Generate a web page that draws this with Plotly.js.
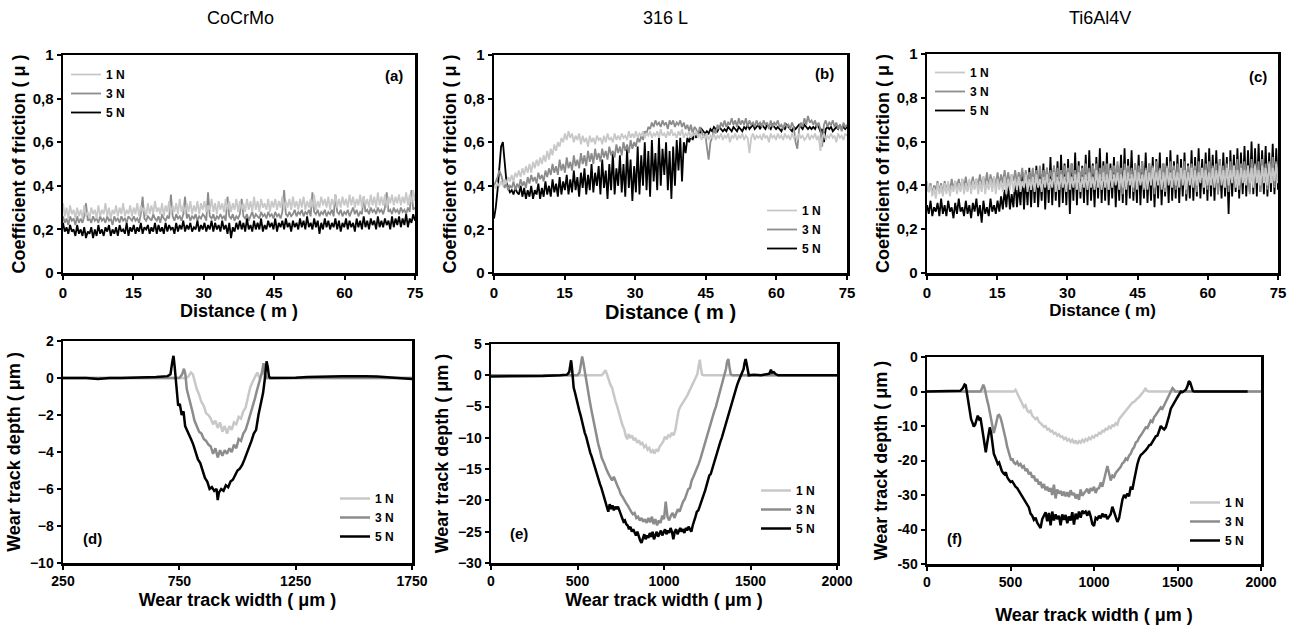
<!DOCTYPE html>
<html><head><meta charset="utf-8">
<script src="https://cdn.plot.ly/plotly-3.0.1.min.js"></script>
<style>html,body{margin:0;padding:0;background:#fff}#chart{width:1302px;height:626px}</style>
</head><body><div id="chart"></div>
<script>
const loads = ['1 N', '3 N', '5 N'];
const lineColors = ['#c8c8c8', '#8c8c8c', '#000000'];
const materials = ['CoCrMo', '316 L', 'Ti6Al4V'];
const panelLabels = ['(a)', '(b)', '(c)', '(d)', '(e)', '(f)'];
const distanceMax = 75;

// ---- Coefficient of friction vs distance (200 samples over 0-75 m) ----
const cocrmo1N = [
0.32,0.26,0.30,0.25,0.31,0.27,0.29,0.25,0.30,0.26,
0.29,0.25,0.31,0.26,0.28,0.25,0.30,0.27,0.29,0.25,
0.31,0.26,0.29,0.27,0.32,0.26,0.30,0.25,0.29,0.27,
0.31,0.26,0.30,0.27,0.32,0.26,0.29,0.27,0.31,0.26,
0.30,0.27,0.32,0.26,0.31,0.28,0.30,0.26,0.32,0.27,
0.31,0.27,0.33,0.28,0.30,0.27,0.32,0.26,0.31,0.28,
0.33,0.27,0.31,0.28,0.32,0.27,0.34,0.28,0.31,0.27,
0.32,0.28,0.33,0.27,0.31,0.28,0.33,0.27,0.32,0.29,
0.33,0.28,0.31,0.29,0.34,0.28,0.32,0.27,0.33,0.29,
0.32,0.28,0.34,0.29,0.33,0.28,0.32,0.29,0.34,0.28,
0.33,0.29,0.32,0.28,0.34,0.29,0.33,0.28,0.35,0.29,
0.33,0.28,0.34,0.30,0.32,0.29,0.34,0.28,0.33,0.30,
0.34,0.29,0.33,0.30,0.35,0.29,0.33,0.30,0.34,0.29,
0.35,0.30,0.33,0.29,0.34,0.30,0.35,0.29,0.33,0.30,
0.34,0.30,0.36,0.29,0.33,0.30,0.35,0.31,0.34,0.30,
0.35,0.29,0.34,0.31,0.36,0.30,0.34,0.30,0.35,0.31,
0.34,0.30,0.36,0.31,0.35,0.30,0.34,0.31,0.36,0.30,
0.35,0.31,0.34,0.30,0.36,0.31,0.35,0.30,0.37,0.31,
0.35,0.31,0.36,0.30,0.35,0.32,0.36,0.31,0.35,0.32,
0.36,0.31,0.35,0.32,0.37,0.31,0.36,0.32,0.38,0.33];
const cocrmo3N = [
0.26,0.23,0.25,0.22,0.26,0.24,0.25,0.22,0.26,0.23,
0.25,0.23,0.26,0.32,0.24,0.25,0.23,0.26,0.24,0.25,
0.23,0.26,0.24,0.25,0.23,0.26,0.24,0.25,0.22,0.26,
0.24,0.25,0.23,0.26,0.24,0.25,0.23,0.26,0.25,0.24,
0.26,0.24,0.25,0.23,0.27,0.35,0.25,0.24,0.26,0.25,
0.24,0.27,0.25,0.24,0.26,0.23,0.27,0.25,0.24,0.26,
0.25,0.36,0.26,0.24,0.27,0.25,0.26,0.24,0.27,0.35,
0.25,0.27,0.24,0.26,0.25,0.27,0.24,0.26,0.25,0.27,
0.26,0.24,0.37,0.26,0.25,0.27,0.24,0.26,0.25,0.27,
0.25,0.26,0.24,0.35,0.26,0.25,0.27,0.24,0.26,0.25,
0.27,0.34,0.26,0.25,0.27,0.24,0.26,0.28,0.25,0.27,
0.26,0.25,0.28,0.26,0.27,0.25,0.28,0.26,0.27,0.25,
0.28,0.26,0.27,0.25,0.28,0.38,0.27,0.26,0.28,0.26,
0.27,0.29,0.26,0.28,0.27,0.29,0.26,0.28,0.27,0.29,
0.26,0.37,0.28,0.27,0.29,0.26,0.28,0.27,0.29,0.26,
0.28,0.27,0.29,0.26,0.36,0.28,0.27,0.29,0.26,0.28,
0.27,0.29,0.26,0.28,0.30,0.27,0.29,0.26,0.28,0.27,
0.35,0.28,0.29,0.27,0.30,0.28,0.29,0.27,0.30,0.28,
0.29,0.27,0.30,0.37,0.28,0.29,0.27,0.30,0.28,0.29,
0.27,0.30,0.28,0.29,0.27,0.30,0.28,0.38,0.29,0.30];
const cocrmo5N = [
0.23,0.19,0.21,0.18,0.22,0.19,0.20,0.17,0.22,0.18,
0.20,0.17,0.21,0.16,0.19,0.18,0.21,0.16,0.20,0.17,
0.22,0.18,0.20,0.17,0.21,0.19,0.22,0.17,0.20,0.18,
0.21,0.17,0.22,0.19,0.20,0.18,0.23,0.17,0.21,0.19,
0.22,0.18,0.21,0.19,0.23,0.18,0.21,0.20,0.22,0.18,
0.21,0.19,0.23,0.18,0.22,0.19,0.21,0.18,0.23,0.19,
0.22,0.20,0.21,0.18,0.23,0.19,0.22,0.20,0.24,0.19,
0.22,0.20,0.23,0.19,0.21,0.20,0.24,0.19,0.22,0.20,
0.23,0.19,0.22,0.20,0.24,0.19,0.23,0.20,0.22,0.19,
0.24,0.20,0.22,0.18,0.23,0.16,0.21,0.19,0.23,0.20,
0.24,0.20,0.23,0.19,0.25,0.20,0.22,0.19,0.24,0.20,
0.23,0.20,0.25,0.19,0.22,0.20,0.24,0.21,0.23,0.20,
0.25,0.19,0.23,0.21,0.24,0.20,0.25,0.21,0.23,0.19,
0.24,0.21,0.23,0.20,0.25,0.21,0.24,0.20,0.26,0.21,
0.23,0.20,0.25,0.21,0.24,0.18,0.23,0.20,0.25,0.21,
0.24,0.20,0.23,0.21,0.25,0.20,0.24,0.19,0.23,0.21,
0.25,0.20,0.24,0.21,0.23,0.19,0.25,0.21,0.24,0.20,
0.26,0.21,0.24,0.20,0.25,0.22,0.24,0.20,0.26,0.21,
0.24,0.21,0.25,0.22,0.24,0.20,0.26,0.21,0.25,0.22,
0.26,0.21,0.25,0.22,0.27,0.21,0.25,0.23,0.27,0.24];

const ss316L1N = [
0.40,0.39,0.41,0.40,0.42,0.40,0.43,0.41,0.44,0.42,
0.45,0.42,0.46,0.44,0.47,0.44,0.48,0.45,0.49,0.46,
0.50,0.46,0.51,0.48,0.52,0.49,0.53,0.50,0.54,0.51,
0.56,0.52,0.57,0.54,0.59,0.56,0.60,0.58,0.62,0.60,
0.64,0.61,0.65,0.62,0.64,0.60,0.63,0.61,0.64,0.59,
0.63,0.60,0.62,0.58,0.63,0.60,0.62,0.59,0.63,0.61,
0.62,0.59,0.63,0.60,0.64,0.61,0.62,0.60,0.64,0.61,
0.63,0.61,0.64,0.62,0.63,0.61,0.65,0.62,0.64,0.62,
0.65,0.62,0.64,0.63,0.65,0.62,0.64,0.63,0.65,0.62,
0.64,0.63,0.65,0.62,0.66,0.63,0.64,0.62,0.65,0.63,
0.66,0.63,0.64,0.62,0.65,0.63,0.66,0.62,0.64,0.63,
0.65,0.62,0.64,0.63,0.65,0.62,0.64,0.61,0.63,0.62,
0.64,0.61,0.63,0.62,0.64,0.61,0.63,0.62,0.64,0.61,
0.63,0.62,0.64,0.60,0.63,0.62,0.64,0.61,0.63,0.62,
0.64,0.61,0.63,0.62,0.55,0.62,0.64,0.61,0.63,0.62,
0.63,0.61,0.64,0.62,0.63,0.60,0.64,0.62,0.63,0.61,
0.64,0.62,0.63,0.61,0.64,0.62,0.63,0.61,0.64,0.62,
0.63,0.61,0.64,0.62,0.63,0.61,0.62,0.64,0.61,0.63,
0.62,0.64,0.61,0.63,0.56,0.62,0.64,0.61,0.63,0.62,
0.64,0.62,0.63,0.60,0.64,0.62,0.63,0.61,0.64,0.63];
const ss316L3N = [
0.40,0.42,0.44,0.47,0.45,0.42,0.39,0.41,0.38,0.40,
0.39,0.42,0.38,0.41,0.39,0.43,0.40,0.42,0.39,0.44,
0.41,0.45,0.42,0.44,0.41,0.46,0.43,0.45,0.42,0.47,
0.44,0.48,0.45,0.50,0.46,0.49,0.45,0.52,0.47,0.50,
0.46,0.53,0.48,0.51,0.47,0.54,0.49,0.52,0.48,0.55,
0.50,0.54,0.49,0.56,0.51,0.55,0.50,0.57,0.52,0.55,
0.51,0.57,0.53,0.56,0.52,0.58,0.54,0.56,0.53,0.59,
0.55,0.58,0.54,0.60,0.56,0.59,0.55,0.61,0.57,0.60,
0.58,0.62,0.60,0.63,0.61,0.65,0.64,0.67,0.66,0.69,
0.67,0.70,0.68,0.69,0.67,0.70,0.68,0.69,0.66,0.70,
0.68,0.70,0.67,0.69,0.68,0.70,0.67,0.69,0.66,0.68,
0.65,0.68,0.64,0.67,0.66,0.63,0.67,0.65,0.62,0.64,
0.58,0.52,0.60,0.62,0.66,0.64,0.68,0.66,0.69,0.67,
0.70,0.67,0.69,0.68,0.71,0.68,0.70,0.67,0.71,0.68,
0.70,0.68,0.71,0.67,0.70,0.68,0.69,0.67,0.70,0.68,
0.69,0.67,0.70,0.68,0.69,0.66,0.70,0.67,0.69,0.68,
0.70,0.67,0.68,0.66,0.69,0.67,0.68,0.66,0.69,0.67,
0.60,0.57,0.66,0.69,0.67,0.71,0.68,0.72,0.69,0.70,
0.68,0.70,0.67,0.69,0.66,0.58,0.68,0.70,0.67,0.69,
0.68,0.70,0.67,0.69,0.66,0.68,0.65,0.69,0.67,0.68];
const ss316L5N = [
0.25,0.30,0.38,0.47,0.58,0.60,0.50,0.42,0.39,0.37,
0.38,0.36,0.39,0.37,0.36,0.40,0.35,0.39,0.34,0.38,
0.35,0.40,0.34,0.38,0.36,0.41,0.34,0.39,0.35,0.42,
0.36,0.40,0.35,0.43,0.37,0.41,0.35,0.44,0.36,0.42,
0.38,0.45,0.36,0.43,0.37,0.47,0.38,0.44,0.35,0.46,
0.39,0.48,0.36,0.45,0.38,0.50,0.37,0.46,0.40,0.49,
0.36,0.52,0.39,0.47,0.34,0.50,0.38,0.55,0.36,0.48,
0.40,0.54,0.37,0.50,0.35,0.57,0.39,0.52,0.33,0.49,
0.37,0.58,0.36,0.54,0.40,0.60,0.38,0.56,0.35,0.61,
0.42,0.55,0.38,0.62,0.40,0.57,0.45,0.60,0.38,0.56,
0.34,0.58,0.40,0.61,0.47,0.62,0.42,0.60,0.55,0.62,
0.60,0.63,0.61,0.64,0.62,0.65,0.64,0.66,0.65,0.64,
0.65,0.64,0.66,0.65,0.67,0.66,0.65,0.67,0.66,0.65,
0.66,0.65,0.67,0.66,0.65,0.67,0.66,0.65,0.67,0.66,
0.65,0.67,0.66,0.68,0.66,0.67,0.68,0.66,0.67,0.68,
0.66,0.68,0.67,0.66,0.68,0.67,0.66,0.68,0.67,0.66,
0.67,0.66,0.65,0.67,0.66,0.68,0.67,0.66,0.65,0.67,
0.66,0.67,0.68,0.67,0.66,0.68,0.67,0.66,0.67,0.66,
0.67,0.66,0.68,0.67,0.65,0.66,0.60,0.66,0.67,0.66,
0.67,0.65,0.66,0.67,0.66,0.68,0.66,0.67,0.66,0.67];

const ti6al4v1N = [
0.42,0.37,0.40,0.35,0.39,0.34,0.41,0.36,0.40,0.35,
0.41,0.36,0.42,0.35,0.40,0.37,0.42,0.36,0.41,0.37,
0.43,0.36,0.41,0.37,0.43,0.36,0.42,0.38,0.43,0.36,
0.42,0.37,0.44,0.36,0.42,0.38,0.43,0.37,0.44,0.36,
0.43,0.38,0.42,0.37,0.44,0.36,0.43,0.38,0.45,0.37,
0.43,0.38,0.44,0.37,0.42,0.39,0.45,0.37,0.43,0.38,
0.44,0.37,0.45,0.39,0.43,0.37,0.44,0.39,0.45,0.38,
0.43,0.39,0.46,0.37,0.44,0.38,0.45,0.39,0.44,0.37,
0.46,0.38,0.44,0.39,0.45,0.38,0.46,0.37,0.44,0.39,
0.45,0.38,0.46,0.39,0.44,0.38,0.47,0.39,0.45,0.38,
0.46,0.39,0.45,0.38,0.47,0.39,0.45,0.40,0.46,0.38,
0.45,0.39,0.47,0.38,0.46,0.40,0.45,0.39,0.47,0.38,
0.46,0.40,0.45,0.39,0.47,0.38,0.46,0.40,0.48,0.39,
0.46,0.40,0.47,0.38,0.46,0.39,0.48,0.40,0.46,0.39,
0.47,0.40,0.46,0.39,0.48,0.40,0.47,0.38,0.46,0.40,
0.48,0.39,0.47,0.40,0.46,0.41,0.48,0.39,0.47,0.40,
0.46,0.40,0.48,0.39,0.47,0.41,0.49,0.40,0.47,0.39,
0.48,0.40,0.47,0.41,0.49,0.39,0.47,0.40,0.48,0.41,
0.47,0.40,0.49,0.41,0.48,0.39,0.49,0.41,0.47,0.40,
0.49,0.41,0.48,0.40,0.50,0.41,0.48,0.42,0.50,0.41];
const ti6al4v3N = [
0.40,0.37,0.41,0.36,0.40,0.38,0.42,0.37,0.41,0.36,
0.42,0.38,0.41,0.37,0.43,0.38,0.42,0.39,0.43,0.38,
0.43,0.39,0.44,0.38,0.42,0.40,0.44,0.39,0.43,0.40,
0.45,0.39,0.44,0.40,0.46,0.39,0.45,0.41,0.44,0.40,
0.46,0.40,0.45,0.41,0.47,0.40,0.46,0.41,0.45,0.42,
0.47,0.41,0.46,0.42,0.48,0.41,0.47,0.42,0.46,0.41,
0.48,0.42,0.47,0.41,0.49,0.42,0.47,0.43,0.48,0.42,
0.47,0.43,0.49,0.42,0.48,0.43,0.47,0.42,0.49,0.43,
0.48,0.42,0.50,0.43,0.47,0.42,0.49,0.43,0.48,0.42,
0.50,0.43,0.48,0.42,0.49,0.44,0.50,0.42,0.48,0.43,
0.49,0.43,0.50,0.38,0.48,0.44,0.49,0.43,0.51,0.42,
0.48,0.36,0.50,0.43,0.49,0.44,0.48,0.37,0.50,0.43,
0.49,0.44,0.51,0.38,0.48,0.43,0.50,0.44,0.49,0.36,
0.51,0.43,0.48,0.44,0.50,0.37,0.49,0.43,0.51,0.44,
0.49,0.38,0.50,0.44,0.48,0.43,0.51,0.36,0.49,0.44,
0.50,0.43,0.49,0.37,0.51,0.44,0.48,0.43,0.50,0.38,
0.51,0.44,0.49,0.43,0.50,0.36,0.52,0.44,0.49,0.43,
0.50,0.37,0.51,0.44,0.49,0.43,0.52,0.38,0.50,0.44,
0.51,0.43,0.49,0.36,0.52,0.44,0.50,0.43,0.51,0.37,
0.52,0.44,0.50,0.38,0.51,0.44,0.53,0.39,0.51,0.44];
const ti6al4v5N = [
0.31,0.27,0.33,0.26,0.30,0.28,0.32,0.26,0.34,0.27,
0.31,0.26,0.33,0.28,0.30,0.25,0.32,0.27,0.34,0.28,
0.30,0.26,0.33,0.27,0.31,0.25,0.32,0.28,0.34,0.26,
0.31,0.23,0.33,0.27,0.30,0.26,0.34,0.28,0.31,0.27,
0.33,0.28,0.35,0.29,0.38,0.30,0.41,0.29,0.36,0.30,
0.43,0.30,0.40,0.31,0.46,0.29,0.44,0.31,0.48,0.30,
0.47,0.32,0.49,0.30,0.45,0.33,0.50,0.29,0.48,0.32,
0.53,0.31,0.49,0.33,0.51,0.30,0.54,0.32,0.50,0.31,
0.52,0.27,0.50,0.33,0.55,0.31,0.51,0.34,0.49,0.32,
0.54,0.31,0.56,0.33,0.50,0.30,0.53,0.34,0.57,0.32,
0.51,0.33,0.55,0.31,0.50,0.34,0.53,0.30,0.49,0.33,
0.54,0.32,0.57,0.31,0.52,0.34,0.56,0.33,0.50,0.32,
0.54,0.31,0.51,0.34,0.55,0.32,0.50,0.33,0.53,0.30,
0.52,0.34,0.55,0.31,0.50,0.35,0.53,0.32,0.56,0.33,
0.51,0.34,0.54,0.32,0.52,0.35,0.55,0.33,0.50,0.34,
0.56,0.33,0.53,0.35,0.57,0.34,0.52,0.36,0.55,0.33,
0.57,0.35,0.54,0.33,0.56,0.36,0.52,0.34,0.55,0.35,
0.53,0.27,0.56,0.35,0.54,0.37,0.57,0.34,0.55,0.36,
0.58,0.35,0.56,0.37,0.60,0.36,0.57,0.35,0.59,0.37,
0.56,0.36,0.58,0.35,0.55,0.37,0.59,0.36,0.57,0.38];

// ---- Wear track profiles: [width (µm), depth (µm)] ----
const cocrmoProfile1N = [[250,0],[400,0],[550,0],[700,0],[780,0],[790,0.1],[800,0.3],[808,0.2],[815,-0.2],[825,-0.6],[835,-0.9],[845,-1.3],[855,-1.5],[865,-1.9],[875,-2.0],[885,-2.2],[895,-2.5],[905,-2.3],[915,-2.7],[925,-2.4],[935,-2.9],[945,-2.6],[955,-3.0],[965,-2.6],[975,-2.8],[985,-2.4],[995,-2.5],[1005,-2.1],[1015,-2.2],[1025,-1.8],[1035,-1.6],[1045,-1.0],[1055,-0.5],[1065,-0.2],[1075,0.1],[1085,0.3],[1095,0.0],[1105,0.2],[1112,0.6],[1118,0.0],[1130,0],[1300,0],[1500,0],[1750,0]];
const cocrmoProfile3N = [[250,0],[500,0],[750,0],[762,0.2],[770,0.5],[776,0.2],[782,-0.6],[790,-1.0],[798,-1.5],[806,-1.8],[815,-2.3],[825,-2.6],[835,-2.9],[845,-3.0],[855,-3.3],[865,-3.4],[875,-3.6],[885,-3.7],[895,-4.1],[905,-3.8],[915,-4.3],[925,-3.9],[935,-4.2],[945,-3.9],[955,-4.1],[965,-3.8],[975,-4.0],[985,-3.6],[995,-3.8],[1005,-3.3],[1015,-3.4],[1025,-3.0],[1035,-2.8],[1045,-2.4],[1055,-2.0],[1065,-1.6],[1075,-1.1],[1085,-0.6],[1095,-0.2],[1105,0.3],[1112,0.8],[1118,0.2],[1125,0],[1400,0],[1750,0]];
const cocrmoProfile5N = [[250,0],[300,0],[350,0],[400,-0.05],[450,0],[500,0],[550,0.02],[600,0],[650,0.05],[700,0.1],[712,0.2],[720,0.9],[725,1.2],[730,0.6],[738,-0.8],[745,-1.5],[752,-1.4],[760,-2.0],[768,-1.8],[775,-2.6],[782,-2.8],[790,-3.0],[800,-3.3],[810,-3.6],[820,-4.0],[830,-4.4],[840,-4.6],[850,-5.0],[860,-5.4],[870,-5.6],[880,-6.0],[890,-5.9],[900,-6.1],[910,-6.0],[915,-6.6],[920,-6.2],[930,-6.0],[940,-6.1],[950,-5.8],[960,-5.9],[970,-5.6],[980,-5.5],[990,-5.2],[1000,-5.0],[1010,-4.9],[1020,-4.7],[1030,-4.4],[1040,-4.1],[1050,-3.8],[1060,-3.4],[1070,-3.0],[1080,-2.8],[1090,-2.0],[1100,-1.4],[1110,-0.8],[1118,0.0],[1125,0.9],[1130,0.6],[1135,0.1],[1140,0],[1150,0],[1200,0],[1250,0.02],[1300,0.05],[1350,0.05],[1400,0.08],[1450,0.1],[1500,0.12],[1550,0.1],[1600,0.08],[1650,0.05],[1700,0.0],[1750,-0.05]];

const ss316LProfile1N = [[0,0],[300,0],[600,0],[640,0],[655,0.5],[662,0.8],[670,0.2],[680,-0.8],[690,-1.5],[700,-2.0],[710,-3.2],[720,-4.2],[730,-5.0],[740,-6.2],[750,-7.0],[760,-8.0],[770,-8.6],[780,-9.8],[788,-10.2],[795,-9.4],[805,-10.0],[815,-9.6],[825,-10.4],[835,-10.0],[845,-10.8],[855,-10.4],[865,-11.0],[875,-10.8],[885,-11.5],[895,-11.2],[905,-11.9],[915,-11.6],[925,-12.4],[935,-12.0],[945,-12.5],[955,-11.8],[965,-12.2],[975,-11.4],[985,-11.0],[995,-10.6],[1005,-9.8],[1015,-10.2],[1025,-9.6],[1035,-9.8],[1045,-9.2],[1055,-9.6],[1065,-8.8],[1075,-7.0],[1085,-5.6],[1095,-5.0],[1105,-4.6],[1115,-4.0],[1125,-3.6],[1135,-3.2],[1145,-2.6],[1155,-2.0],[1165,-1.6],[1175,-1.0],[1185,-0.4],[1193,0.2],[1200,1.5],[1207,2.5],[1213,1.2],[1220,0.1],[1230,0],[1500,0],[2000,0]];
const ss316LProfile3N = [[0,0],[300,0],[500,0],[512,0.5],[520,2.0],[527,3.0],[534,2.0],[542,0.5],[550,-0.8],[560,-2.5],[570,-4.0],[580,-5.5],[590,-7.0],[600,-8.6],[610,-9.8],[620,-11.0],[630,-12.0],[640,-13.2],[650,-13.8],[660,-14.6],[670,-15.2],[680,-15.8],[690,-16.4],[700,-16.8],[710,-16.2],[720,-17.0],[730,-17.6],[740,-18.2],[750,-19.0],[760,-19.4],[770,-20.0],[780,-20.4],[790,-20.8],[800,-21.4],[810,-21.8],[820,-22.2],[830,-22.0],[840,-22.8],[850,-22.6],[860,-23.2],[870,-22.8],[880,-23.4],[890,-23.0],[900,-23.6],[910,-22.8],[920,-23.5],[930,-22.6],[940,-23.8],[950,-23.0],[960,-24.0],[970,-23.2],[980,-23.6],[990,-22.4],[1000,-23.0],[1010,-20.2],[1020,-22.6],[1030,-23.2],[1040,-22.4],[1050,-22.0],[1060,-22.8],[1070,-22.0],[1080,-21.4],[1090,-21.8],[1100,-20.8],[1110,-20.2],[1120,-19.8],[1130,-19.0],[1140,-18.2],[1150,-18.0],[1160,-16.8],[1170,-16.2],[1180,-15.6],[1190,-15.0],[1200,-14.2],[1210,-13.4],[1220,-12.4],[1230,-11.4],[1240,-10.6],[1250,-9.6],[1260,-8.8],[1270,-7.8],[1280,-6.8],[1290,-5.8],[1300,-5.0],[1310,-4.0],[1320,-3.0],[1330,-2.0],[1340,-1.0],[1350,0.0],[1358,1.0],[1365,2.2],[1372,2.6],[1378,1.4],[1385,0.2],[1395,0],[1600,0],[2000,0]];
const ss316LProfile5N = [[0,-0.2],[100,-0.2],[200,-0.1],[300,-0.1],[400,0],[440,0.1],[452,0.5],[458,2.0],[463,2.4],[468,1.2],[473,-1.5],[478,-2.0],[484,-2.6],[490,-3.4],[496,-4.2],[502,-4.8],[510,-5.6],[518,-6.4],[526,-7.4],[534,-8.0],[542,-9.2],[550,-9.8],[558,-10.8],[566,-11.4],[574,-12.4],[582,-13.0],[590,-13.8],[598,-14.4],[606,-15.2],[614,-15.8],[622,-16.6],[630,-17.4],[638,-18.0],[646,-18.8],[654,-19.4],[662,-20.0],[670,-21.0],[678,-21.8],[686,-20.6],[694,-21.4],[702,-20.8],[710,-21.6],[718,-21.0],[726,-21.4],[734,-21.0],[742,-21.8],[750,-22.2],[758,-22.8],[766,-23.4],[774,-23.2],[782,-23.8],[790,-24.0],[798,-24.6],[806,-24.2],[814,-25.0],[822,-24.6],[830,-25.2],[838,-25.6],[846,-25.0],[854,-25.8],[862,-26.4],[870,-26.8],[878,-26.0],[886,-25.4],[894,-26.2],[902,-25.6],[910,-26.0],[918,-25.2],[926,-25.8],[934,-25.0],[942,-26.2],[950,-25.4],[958,-25.0],[966,-25.8],[974,-25.2],[982,-24.8],[990,-25.6],[998,-25.0],[1006,-24.6],[1014,-25.4],[1022,-24.8],[1030,-25.2],[1038,-24.4],[1046,-25.0],[1054,-26.2],[1062,-25.0],[1070,-24.6],[1078,-25.4],[1086,-24.8],[1094,-24.4],[1102,-25.0],[1110,-24.6],[1118,-25.2],[1126,-24.4],[1134,-24.8],[1142,-24.2],[1150,-24.6],[1158,-25.0],[1166,-24.0],[1174,-23.4],[1182,-22.6],[1190,-21.8],[1198,-21.6],[1206,-21.0],[1214,-20.4],[1222,-19.8],[1230,-19.0],[1238,-18.4],[1246,-17.6],[1254,-16.8],[1262,-16.0],[1270,-15.8],[1278,-15.0],[1286,-14.2],[1294,-13.6],[1302,-12.8],[1310,-12.0],[1318,-11.4],[1326,-10.6],[1334,-10.0],[1342,-9.2],[1350,-8.4],[1358,-7.6],[1366,-6.8],[1374,-6.0],[1382,-5.2],[1390,-4.6],[1398,-3.8],[1406,-3.0],[1414,-2.4],[1422,-1.6],[1430,-1.0],[1438,-0.4],[1446,0.2],[1452,0.6],[1460,1.0],[1466,2.0],[1472,2.6],[1478,1.8],[1484,0.4],[1490,0],[1520,0.1],[1560,0],[1600,0.2],[1610,0.3],[1618,0.9],[1625,0.4],[1635,0.5],[1645,0.2],[1660,0],[1800,0],[2000,0]];

const ti6al4vProfile1N = [[0,0],[200,0],[400,0],[520,0],[530,0.5],[540,-0.5],[550,-1.5],[560,-2.5],[570,-3.5],[580,-4.5],[590,-4.0],[600,-5.5],[610,-6.0],[620,-5.6],[630,-7.0],[640,-7.5],[650,-8.0],[660,-7.6],[670,-8.8],[680,-9.2],[690,-9.6],[700,-10.2],[710,-10.0],[720,-11.0],[730,-10.8],[740,-11.6],[750,-11.4],[760,-12.2],[770,-12.0],[780,-12.8],[790,-12.4],[800,-13.2],[810,-13.0],[820,-13.8],[830,-13.4],[840,-14.2],[850,-13.8],[860,-14.6],[870,-14.0],[880,-15.0],[890,-14.2],[900,-15.2],[910,-14.4],[920,-14.8],[930,-14.0],[940,-14.6],[950,-13.8],[960,-14.2],[970,-13.4],[980,-13.8],[990,-13.0],[1000,-13.4],[1010,-12.6],[1020,-12.8],[1030,-12.0],[1040,-12.2],[1050,-11.4],[1060,-11.6],[1070,-10.8],[1080,-11.0],[1090,-10.2],[1100,-10.6],[1110,-9.8],[1120,-10.0],[1130,-9.2],[1140,-9.6],[1150,-8.0],[1160,-7.4],[1170,-6.6],[1180,-6.0],[1190,-5.6],[1200,-4.8],[1210,-4.4],[1220,-3.8],[1230,-3.2],[1240,-3.0],[1250,-2.4],[1260,-2.0],[1270,-1.6],[1280,-1.0],[1290,-0.6],[1300,0.2],[1308,1.0],[1316,0.2],[1330,0],[1600,0],[2000,0]];
const ti6al4vProfile3N = [[0,0],[200,0],[320,0],[330,1.0],[337,2.0],[345,1.0],[352,-1.0],[360,-2.5],[368,-4.0],[376,-6.0],[384,-8.0],[392,-10.0],[400,-12.0],[408,-10.5],[416,-8.5],[424,-7.0],[432,-6.8],[440,-7.5],[448,-9.0],[456,-10.5],[464,-12.0],[472,-14.0],[480,-16.0],[488,-17.5],[496,-19.0],[504,-20.0],[512,-19.4],[520,-20.6],[530,-21.0],[540,-20.4],[550,-21.4],[560,-21.0],[570,-22.0],[580,-21.6],[590,-23.0],[600,-22.4],[610,-24.0],[620,-23.4],[630,-25.0],[640,-24.4],[650,-26.0],[660,-25.4],[670,-27.0],[680,-26.2],[690,-28.0],[700,-26.8],[710,-28.6],[720,-27.6],[730,-29.0],[740,-28.0],[750,-30.0],[760,-27.0],[770,-31.0],[780,-28.4],[790,-29.6],[800,-28.8],[810,-30.2],[820,-29.0],[830,-30.4],[840,-29.2],[850,-30.6],[860,-28.6],[870,-30.0],[880,-29.4],[890,-31.0],[900,-29.8],[910,-31.4],[920,-28.4],[930,-30.2],[940,-29.4],[950,-29.0],[960,-28.2],[970,-29.6],[980,-28.0],[990,-28.8],[1000,-27.6],[1010,-29.4],[1020,-28.2],[1030,-28.0],[1040,-26.4],[1050,-27.6],[1060,-25.6],[1070,-23.0],[1080,-21.6],[1090,-23.6],[1100,-25.8],[1110,-24.4],[1120,-24.8],[1130,-23.6],[1140,-23.0],[1150,-22.2],[1160,-21.8],[1170,-20.8],[1180,-20.4],[1190,-19.4],[1200,-19.8],[1210,-18.6],[1220,-18.0],[1230,-16.8],[1240,-16.2],[1250,-14.8],[1260,-14.4],[1270,-13.4],[1280,-12.8],[1290,-12.0],[1300,-11.2],[1310,-10.4],[1320,-10.6],[1330,-9.6],[1340,-8.4],[1350,-8.8],[1360,-7.4],[1370,-6.8],[1380,-6.0],[1390,-5.2],[1400,-4.6],[1410,-5.0],[1420,-4.0],[1430,-3.0],[1440,-2.0],[1450,-1.0],[1460,0.0],[1470,1.0],[1478,0.6],[1486,0],[1600,0],[2000,0]];
const ti6al4vProfile5N = [[0,0],[100,0],[200,0.2],[215,1.0],[225,2.0],[232,1.8],[240,-1.0],[248,-4.0],[256,-6.5],[264,-8.0],[272,-9.0],[280,-10.2],[288,-9.6],[296,-8.0],[304,-7.0],[312,-8.0],[320,-7.6],[328,-10.0],[336,-13.0],[344,-16.0],[352,-17.6],[360,-15.0],[368,-12.0],[376,-10.4],[384,-12.0],[392,-15.0],[400,-18.0],[408,-19.0],[416,-20.0],[424,-21.0],[432,-20.6],[440,-22.0],[448,-23.0],[456,-23.6],[464,-24.0],[472,-23.4],[480,-24.8],[490,-25.6],[500,-26.2],[510,-26.0],[520,-27.0],[530,-27.6],[540,-28.0],[550,-28.8],[560,-29.6],[570,-30.0],[580,-31.0],[590,-31.6],[600,-32.4],[610,-33.6],[620,-35.4],[630,-36.0],[640,-37.2],[650,-36.6],[660,-38.0],[670,-38.8],[680,-39.6],[690,-37.0],[700,-36.0],[710,-35.0],[720,-37.6],[730,-35.2],[740,-38.8],[750,-34.8],[760,-37.4],[770,-35.6],[780,-37.0],[790,-36.0],[800,-38.8],[810,-35.6],[820,-37.2],[830,-35.8],[840,-38.2],[850,-36.2],[860,-37.4],[870,-35.0],[880,-38.6],[890,-35.4],[900,-37.0],[910,-34.8],[920,-36.6],[930,-34.6],[940,-35.2],[950,-34.8],[960,-36.0],[970,-34.6],[980,-36.2],[990,-38.4],[1000,-39.0],[1010,-36.6],[1020,-37.0],[1030,-36.0],[1040,-36.8],[1050,-35.4],[1060,-36.4],[1070,-35.6],[1080,-37.0],[1090,-36.2],[1100,-35.6],[1110,-33.4],[1120,-34.8],[1130,-36.0],[1140,-37.8],[1150,-36.8],[1160,-34.0],[1170,-31.4],[1180,-30.0],[1190,-30.6],[1200,-29.6],[1210,-30.4],[1220,-27.6],[1230,-28.4],[1240,-25.8],[1250,-23.2],[1260,-21.0],[1270,-19.4],[1280,-18.4],[1290,-18.0],[1300,-17.6],[1310,-17.0],[1320,-16.4],[1330,-15.6],[1340,-15.4],[1350,-14.6],[1360,-14.0],[1370,-13.0],[1380,-12.8],[1390,-11.4],[1400,-10.0],[1410,-10.6],[1420,-11.0],[1430,-10.4],[1440,-9.0],[1450,-7.0],[1460,-5.0],[1470,-4.0],[1480,-3.0],[1490,-2.4],[1500,-1.6],[1510,-0.8],[1520,0],[1530,-0.2],[1540,0.2],[1550,0.5],[1560,1.6],[1568,3.0],[1576,2.6],[1584,1.0],[1592,0.2],[1600,0],[1700,0],[1800,0],[1920,0]];

// tick labels for panel (f) as printed in the source figure
const depthTicksF = [-50, -40, -30, -20, -10, 0, 10];
const depthTickTextF = ['-50', '-40', '-30', '-20', '-10', '0', '0'];

// ---------------- build figure ----------------
const W = 1302, H = 626;
const FONT = 'Liberation Sans, Arial, sans-serif';
const frictionSets = [
  [cocrmo1N, cocrmo3N, cocrmo5N],
  [ss316L1N, ss316L3N, ss316L5N],
  [ti6al4v1N, ti6al4v3N, ti6al4v5N]
];
// drawing order (index into loads) per friction panel; last drawn is on top
const frictionOrder = [[1, 0, 2], [2, 1, 0], [2, 1, 0]];
const profileSets = [
  [cocrmoProfile1N, cocrmoProfile3N, cocrmoProfile5N],
  [ss316LProfile1N, ss316LProfile3N, ss316LProfile5N],
  [ti6al4vProfile1N, ti6al4vProfile3N, ti6al4vProfile5N]
];
const legendNames = ['legend', 'legend2', 'legend3', 'legend4', 'legend5', 'legend6'];
const traces = [];
frictionSets.forEach((set, p) => {
  frictionOrder[p].forEach(k => {
    const vals = set[k];
    traces.push({
      type: 'scatter', mode: 'lines', name: loads[k],
      x: vals.map((_, i) => i * distanceMax / (vals.length - 1)),
      y: vals,
      xaxis: 'x' + (p === 0 ? '' : p + 1), yaxis: 'y' + (p === 0 ? '' : p + 1),
      line: {color: lineColors[k], width: 1.8},
      legend: legendNames[p], legendrank: k + 1, hoverinfo: 'skip'
    });
  });
});
profileSets.forEach((set, p) => {
  [0, 1, 2].forEach(k => {
    const pts = set[k];
    traces.push({
      type: 'scatter', mode: 'lines', name: loads[k],
      x: pts.map(d => d[0]), y: pts.map(d => d[1]),
      xaxis: 'x' + (p + 4), yaxis: 'y' + (p + 4),
      line: {color: lineColors[k], width: 2.5},
      legend: legendNames[p + 3], legendrank: k + 1, hoverinfo: 'skip'
    });
  });
});

const tickFont = s => ({family: FONT, size: s, color: '#000', weight: 'bold'});
const titleFont = s => ({family: FONT, size: s, color: '#000', weight: 'bold'});
function ax(o) {
  return Object.assign({
    showline: true, mirror: true, linecolor: '#000', linewidth: 2.5,
    ticks: 'outside', ticklen: 4, tickwidth: 2, tickcolor: '#000',
    showgrid: false, zeroline: false, fixedrange: true
  }, o);
}
const px = (a, b) => [a / W, b / W];
const py = (top, bottom) => [1 - bottom / H, 1 - top / H];

const layout = {
  width: W, height: H, margin: {l: 0, r: 0, t: 0, b: 0},
  paper_bgcolor: '#fff', plot_bgcolor: '#fff',
  separators: ',.',
  font: {family: FONT, color: '#000'},
  xaxis:  ax({domain: px(63, 415), anchor: 'y', range: [0, 75], tick0: 0, dtick: 15, tickfont: tickFont(15),
    title: {text: 'Distance ( m )', font: titleFont(18), standoff: 5}}),
  yaxis:  ax({domain: py(55, 273), anchor: 'x', range: [0, 1], dtick: 0.2, tickfont: tickFont(15),
    title: {text: 'Coefficient of friction ( μ )', font: titleFont(18), standoff: 3}}),
  xaxis2: ax({domain: px(494, 847), anchor: 'y2', range: [0, 75], tick0: 0, dtick: 15, tickfont: tickFont(15),
    title: {text: 'Distance ( m )', font: titleFont(20), standoff: 4}}),
  yaxis2: ax({domain: py(55, 273), anchor: 'x2', range: [0, 1], dtick: 0.2, tickfont: tickFont(15),
    title: {text: 'Coefficient of friction ( μ )', font: titleFont(18), standoff: 3}}),
  xaxis3: ax({domain: px(927, 1278), anchor: 'y3', range: [0, 75], tick0: 0, dtick: 15, tickfont: tickFont(15),
    title: {text: 'Distance ( m)', font: titleFont(17), standoff: 5}}),
  yaxis3: ax({domain: py(54, 273), anchor: 'x3', range: [0, 1], dtick: 0.2, tickfont: tickFont(15),
    title: {text: 'Coefficient of friction ( μ )', font: titleFont(18), standoff: 3}}),
  xaxis4: ax({domain: px(63, 412), anchor: 'y4', range: [250, 1750], tick0: 250, dtick: 500, tickfont: tickFont(14),
    title: {text: 'Wear track width ( μm )', font: titleFont(18), standoff: 5}}),
  yaxis4: ax({domain: py(341, 563), anchor: 'x4', range: [-10, 2], dtick: 2, tickfont: tickFont(14),
    title: {text: 'Wear track depth ( μm )', font: titleFont(18), standoff: 5}}),
  xaxis5: ax({domain: px(491, 837), anchor: 'y5', range: [0, 2000], tick0: 0, dtick: 500, tickfont: tickFont(14),
    title: {text: 'Wear track width ( μm )', font: titleFont(18), standoff: 5}}),
  yaxis5: ax({domain: py(344, 563), anchor: 'x5', range: [-30, 5], dtick: 5, tickfont: tickFont(14),
    title: {text: 'Wear track depth ( μm )', font: titleFont(18), standoff: 5}}),
  xaxis6: ax({domain: px(927, 1261), anchor: 'y6', range: [0, 2000], tick0: 0, dtick: 500, tickfont: tickFont(14),
    title: {text: 'Wear track width ( μm )', font: titleFont(18), standoff: 19}}),
  yaxis6: ax({domain: py(357, 564), anchor: 'x6', range: [-50, 10], tickmode: 'array', tickvals: depthTicksF, ticktext: depthTickTextF, tickfont: tickFont(14),
    title: {text: 'Wear track depth ( μm )', font: titleFont(18), standoff: 5}}),
  annotations: [],
  showlegend: true
};

const legendPos = [[66, 60], [762, 196], [930, 58], [335, 484], [756, 476], [1185, 488]];
legendPos.forEach((pp, i) => {
  layout[legendNames[i]] = {
    x: pp[0] / W, y: 1 - pp[1] / H, xanchor: 'left', yanchor: 'top',
    bgcolor: 'rgba(0,0,0,0)', borderwidth: 0, tracegroupgap: 0,
    font: {family: FONT, size: 12, color: '#000', weight: 'bold'},
    itemclick: false, itemdoubleclick: false
  };
});

const titleX = [240, 665, 1100];
materials.forEach((m, i) => {
  layout.annotations.push({text: m, x: titleX[i] / W, y: 1 - 18 / H, xref: 'paper', yref: 'paper',
    showarrow: false, xanchor: 'center', yanchor: 'middle', font: {family: FONT, size: 18, color: '#000'}});
});
const labelPos = [[394, 75], [824, 74], [1258, 76], [92, 538], [519, 533], [955, 538]];
panelLabels.forEach((t, i) => {
  layout.annotations.push({text: t, x: labelPos[i][0] / W, y: 1 - labelPos[i][1] / H, xref: 'paper', yref: 'paper',
    showarrow: false, xanchor: 'center', yanchor: 'middle', font: {family: FONT, size: 15, color: '#000', weight: 'bold'}});
});

Plotly.newPlot('chart', traces, layout, {displayModeBar: false, staticPlot: true});
</script></body></html>
